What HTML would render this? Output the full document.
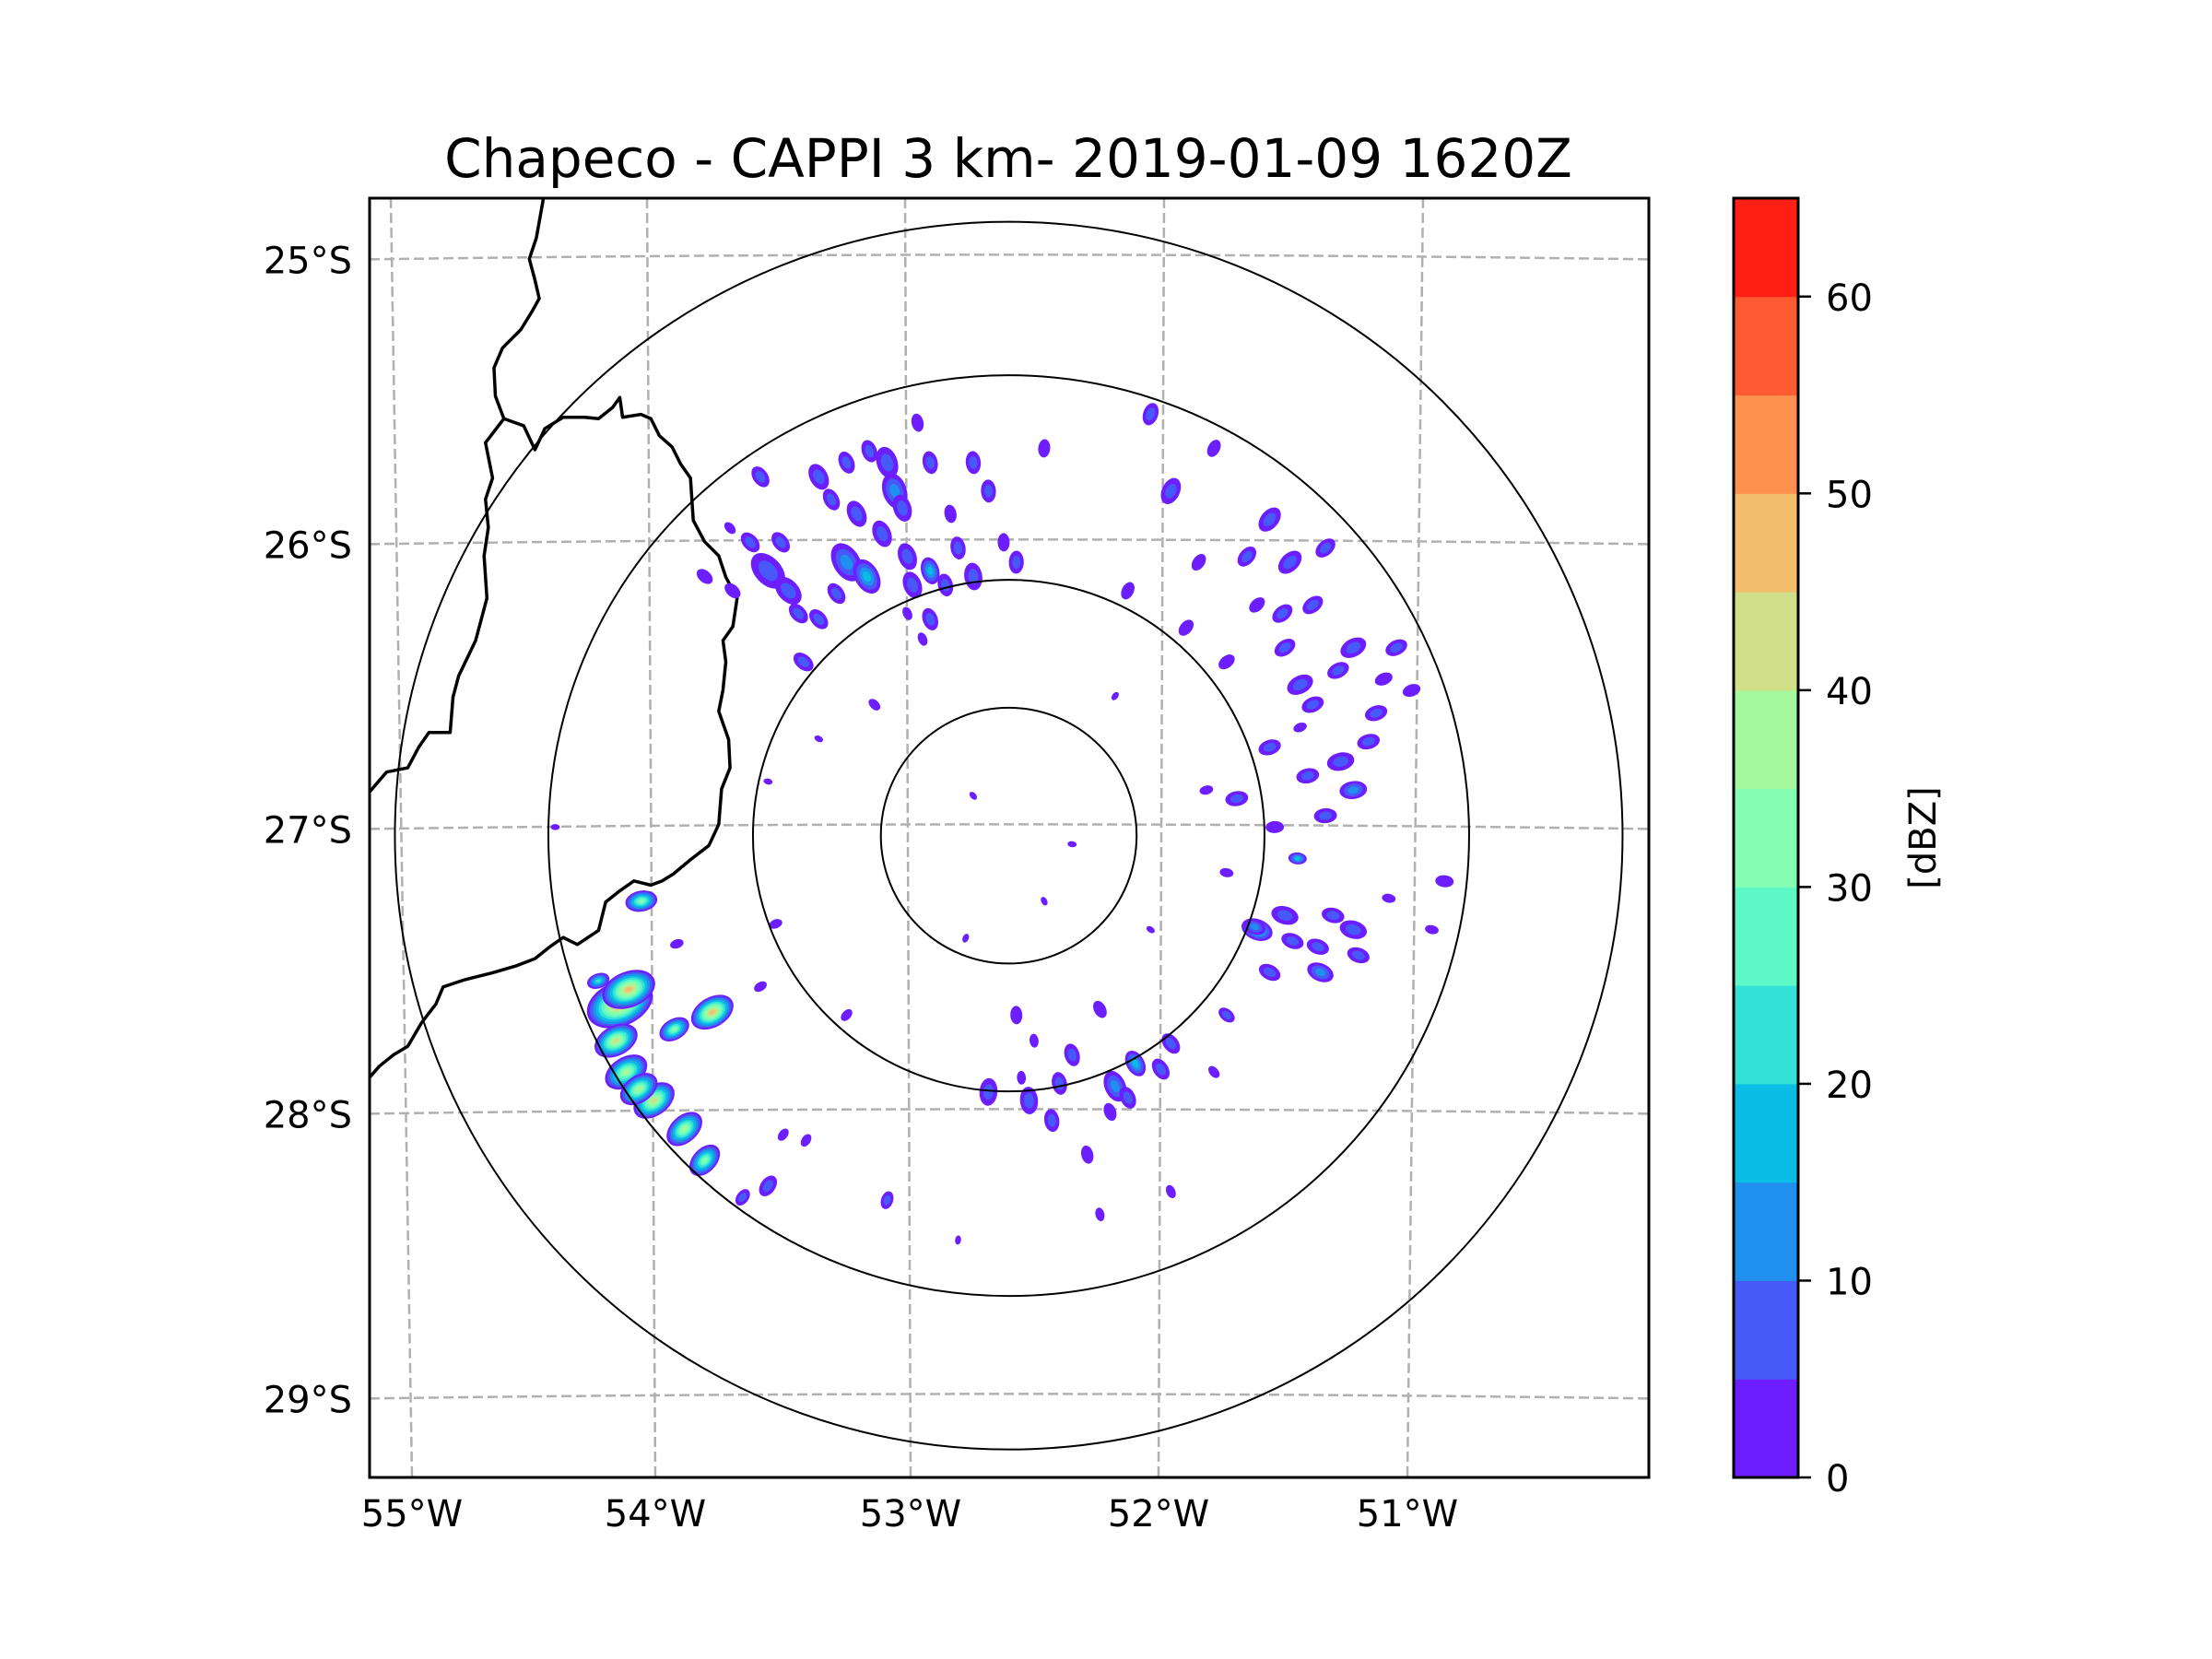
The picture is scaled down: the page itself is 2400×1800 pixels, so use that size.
<!DOCTYPE html>
<html><head><meta charset="utf-8"><title>Chapeco CAPPI</title>
<style>
html,body{margin:0;padding:0;background:#fff;}
svg{display:block;font-family:"DejaVu Sans","Liberation Sans",sans-serif;}
</style></head>
<body>
<svg id="fig" width="2400" height="1800" viewBox="0 0 2400 1800" xmlns="http://www.w3.org/2000/svg">
<rect width="2400" height="1800" fill="#fff"/>
<text x="1094" y="192" font-size="58" text-anchor="middle">Chapeco - CAPPI 3 km- 2019-01-09 1620Z</text>
<defs><clipPath id="axclip"><rect x="401" y="215" width="1388" height="1388"/></clipPath></defs>
<g id="grid" clip-path="url(#axclip)"></g>
<g id="borders" clip-path="url(#axclip)"></g>
<g id="echoes" clip-path="url(#axclip)"></g>
<g id="rings" clip-path="url(#axclip)"></g>
<rect x="401" y="215" width="1388" height="1388" fill="none" stroke="#000" stroke-width="3"/>
<g id="ticks"></g>
<g id="cbar"></g>
</svg>
<script>
// ---- data ----
const lonTicks = [-55, -54, -53, -52, -51];
const lonTickLabels = ["55°W", "54°W", "53°W", "52°W", "51°W"];
const latTicks = [-25, -26, -27, -28, -29];
const latTickLabels = ["25°S", "26°S", "27°S", "28°S", "29°S"];
const cbarLevels = [0,5,10,15,20,25,30,35,40,45,50,55,60,65];
const cbarColors = ["#6c1eff","#4759f8","#2090ee","#0abde6","#33e1d6","#5ef8c6","#84feb0","#a3f99b","#d1e088","#f4be6d","#ff914e","#ff5a32","#ff1f14"];
const cbarTicks = [0,10,20,30,40,50,60];
const radarLon = -52.60;
const radarLat = -27.03;
const ringRadiiKm = [50, 100, 180, 240];
// echoes: lon, lat, peak dBZ, size (km)
const echoLon = [-54.135,-54.10,-53.77,-53.92,-54.05,-54.11,-54.00,-53.88,-53.80,-54.22,-54.15,-54.06,
 -53.55,-53.47,-53.35,-53.24,-53.16,-53.08,-53.05,-53.10,-52.91,-52.91,-52.74,-52.68,-52.57,-52.74,-53.58,-53.69,-53.41,-52.96,-53.24,-52.46,-53.35,-52.91,-53.80,
 -52.04,-51.96,-51.79,-51.57,-51.49,-51.35,-51.40,-51.24,-51.07,-51.51,-51.62,-51.40,-51.29,-51.57,-51.35,-51.24,-51.01,-51.85,-52.13,-51.74,-51.46,
 -51.62,-51.51,-51.37,-51.32,-51.24,-51.57,-50.93,-50.88,-51.74,-51.79,
 -52.68,-52.52,-52.43,-52.18,-52.10,-52.24,-52.57,-51.96,-52.29,-51.96,-52.24,
 -53.55,-53.08,-53.49,-53.58,-53.52,-53.91,-52.80,-53.24,
 -52.74,-52.35,-52.46,-52.18,-52.94,-53.35,-52.04,-52.77,-51.74,-51.82,-53.13,-53.55,-54.39,
 -53.00,-53.20,-51.63,-51.45,-52.13,-53.62,-53.43,-52.85,-51.15,-51.70,-52.35,-53.30,
 -53.15,-53.02,-52.83,-52.62,-53.50,-53.28,-52.98,-52.80,-51.90,-51.66,-51.52,-51.30,-51.18,-51.42,-51.12,-51.55,-51.38,-51.48,-51.22,-51.10,
 -52.40,-52.20,-52.00,-52.55,-53.65,-53.40,-53.70,-53.00,-52.50,-51.45];
const echoLat = [-27.62,-27.57,-27.65,-27.71,-27.26,-27.86,-27.96,-28.06,-28.17,-27.54,-27.75,-27.92,
 -26.10,-26.17,-25.77,-26.07,-26.12,-25.72,-25.82,-25.97,-25.72,-26.10,-25.72,-25.82,-26.07,-26.12,-25.77,-26.17,-26.42,-25.58,-25.72,-25.67,-26.27,-26.27,-26.12,
 -25.55,-25.82,-25.67,-25.92,-26.07,-26.02,-26.22,-26.37,-26.37,-26.37,-26.22,-26.57,-26.77,-26.72,-26.96,-26.87,-26.52,-26.07,-26.17,-26.42,-27.11,
 -27.36,-27.31,-27.51,-27.31,-27.36,-27.51,-27.36,-27.19,-27.66,-27.86,
 -27.93,-27.96,-28.03,-27.91,-27.83,-27.64,-27.66,-27.76,-28.15,-28.28,-28.36,
 -28.26,-28.31,-28.08,-27.56,-27.34,-27.41,-28.45,-27.66,
 -26.89,-27.06,-27.26,-26.54,-26.34,-26.69,-27.36,-27.39,-27.16,-26.87,-26.57,-26.84,-27.00,
 -26.05,-25.90,-27.35,-26.50,-27.95,-26.00,-26.25,-26.15,-26.60,-26.90,-27.80,-25.85,
 -25.68,-25.88,-25.90,-26.00,-26.00,-26.18,-26.15,-26.02,-26.30,-26.05,-26.25,-26.45,-26.70,-26.82,-26.48,-27.00,-27.42,-27.40,-27.45,-27.25,
 -27.90,-28.00,-27.85,-27.88,-28.30,-28.10,-25.95,-26.25,-27.75,-26.65];
const echoDbz = [52,45,45,30,32,38,42,36,32,22,40,35,
 8,6,6,10,15,8,10,6,6,18,6,6,6,6,6,4,6,4,6,4,6,6,4,
 6,8,4,8,8,6,6,8,6,6,4,6,8,6,6,10,4,4,4,4,18,
 20,8,10,6,8,6,4,4,6,4,
 8,8,6,10,18,4,4,6,4,4,4,
 6,6,4,4,4,4,2,4,
 2,2,2,4,4,2,4,2,4,4,4,2,2,
 6,8,10,6,6,6,6,6,6,6,6,6,
 6,8,4,4,6,6,8,6,4,6,6,6,6,6,4,4,6,6,6,4,
 6,4,6,4,6,4,4,4,4,4];
const echoSize = [15,12,10,7,7,10,10,9,8,5,10,9,
 9,7,6,9,8,7,8,6,5,6,5,5,5,6,5,4,5,4,5,4,5,5,4,
 5,6,4,6,6,5,5,6,5,5,4,5,6,5,5,6,4,4,4,4,4,
 7,6,6,5,6,5,3,4,4,3,
 6,6,5,7,6,4,4,5,4,3,3,
 5,4,3,3,3,3,2,3,
 2,2,2,2,3,2,2,2,3,3,3,2,2,
 6,6,5,6,5,5,5,5,5,5,5,5,
 5,6,4,4,5,5,6,5,4,5,5,5,5,5,4,4,5,5,5,3,
 5,4,5,3,4,3,3,3,3,3];

// ---- axis functions ----
function xOf(lon){ return 434.7 + (lon + 55) * 274.9; }
function yOf(lat){ return 279.4 + (-25 - lat) * 309.0; }
const kmPx = 666 / 240;
const NS = "http://www.w3.org/2000/svg";
function mk(tag, attrs, parent){ const e = document.createElementNS(NS, tag); for (const k in attrs) e.setAttribute(k, attrs[k]); parent.appendChild(e); return e; }

// gridlines
const grid = document.getElementById('grid');
const merTop = {"-55":424,"-54":702,"-53":982,"-52":1263,"-51":1544};
const merBot = {"-55":447,"-54":711,"-53":988,"-52":1257,"-51":1527};
lonTicks.forEach(lon => {
  const l = mk('line', {x1: merTop[lon] , y1: 215, x2: merBot[lon], y2: 1603, stroke: '#b0b0b0', 'stroke-width': 2.5, 'stroke-dasharray': '11 5'}, grid);
  
  
});
latTicks.forEach(lat => {
  const y = yOf(lat) + 2;
  const p = mk('path', {d: `M401 ${y} Q1094 ${y-10} 1789 ${y}`, fill: 'none', stroke: '#b0b0b0', 'stroke-width': 2.5, 'stroke-dasharray': '11 5'}, grid);
  
  
});

// borders
function dpt(arr){ return arr.map(p => [401 + (p[0]-263)*1.5337, 215 + (p[1]-142)*1.5337]); }
const borderA = dpt([[386,142],[381,170],[376,185],[380,200],[383,213],[378,222],[370,235],[357,248],[351,262],[352,282],[358,298],[345,315],[350,340],[345,355],[347,375],[344,395],[346,425],[338,455],[326,480],[322,495],[320,520],[305,520],[298,530],[290,545],[275,548],[263,562]]);
const borderB = dpt([[358,298],[372,303],[380,320],[387,305],[400,297],[415,297],[425,298],[435,290],[440,283],[442,297],[455,295],[462,298],[468,310],[477,318],[483,330],[490,340],[492,370],[500,385],[510,395],[515,410],[523,425],[520,445],[513,455],[515,470],[513,490],[510,505],[517,525],[518,545],[512,560],[510,585],[503,600],[490,610],[478,620],[470,625],[462,628],[450,625],[440,632],[430,640],[425,660],[410,670],[400,665],[390,672],[380,680],[367,685],[350,690],[330,695],[315,700],[310,712],[300,725],[290,742],[280,748],[270,756],[263,764]]);
const bg = document.getElementById('borders');
[borderA, borderB].forEach((pts, i) => {
  const pl = mk('polyline', {points: pts.map(p => p.join(',')).join(' '), fill: 'none', stroke: '#000', 'stroke-width': 3.5, 'stroke-linejoin': 'round'}, bg);
  
  
});

// echoes
const eg = document.getElementById('echoes');
const cx0 = xOf(radarLon), cy0 = yOf(radarLat);
echoLon.forEach((lon, i) => {
  const x = xOf(lon), y = yOf(echoLat[i]);
  const ang = Math.atan2(y - cy0, x - cx0) * 180 / Math.PI;
  const nLev = Math.floor(echoDbz[i] / 5) + 1;
  const s = echoSize[i] * kmPx * 0.9;
  for (let l = 0; l < nLev; l++) {
    const f = 1 - l / (nLev + 0.3);
    const e = mk('ellipse', {cx: x, cy: y, rx: s * f, ry: s * 0.65 * f, fill: cbarColors[Math.min(l, cbarColors.length-1)], transform: `rotate(${ang} ${x} ${y})`}, eg);
    
    
  }
});

// rings
const rg = document.getElementById('rings');
ringRadiiKm.forEach(r => {
  const c = mk('circle', {cx: cx0, cy: cy0, r: r * kmPx, fill: 'none', stroke: '#000', 'stroke-width': 2}, rg);
  
  
});

// tick labels
const tg = document.getElementById('ticks');
lonTicks.forEach((lon, i) => {
  const t = mk('text', {x: merBot[lon], y: 1656, 'font-size': 40, 'text-anchor': 'middle'}, tg);
  t.textContent = lonTickLabels[i];
  
  
});
latTicks.forEach((lat, i) => {
  const t = mk('text', {x: 382, y: yOf(lat) + 17, 'font-size': 40, 'text-anchor': 'end'}, tg);
  t.textContent = latTickLabels[i];
  
  
});

// colorbar
const cg = document.getElementById('cbar');
const cbTop = 215, cbBot = 1603, cbX = 1881, cbW = 70;
function cbY(v){ return cbBot - (v - 0) / 65 * (cbBot - cbTop); }
cbarColors.forEach((col, i) => {
  const r = mk('rect', {x: cbX, y: cbY(cbarLevels[i+1]), width: cbW, height: cbY(cbarLevels[i]) - cbY(cbarLevels[i+1]) + 0.5, fill: col}, cg);
  
  
});
const fr = mk('rect', {x: cbX, y: cbTop, width: cbW, height: cbBot - cbTop, fill: 'none', stroke: '#000', 'stroke-width': 3}, cg);


cbarTicks.forEach(v => {
  const y = cbY(v);
  const tk = mk('line', {x1: cbX + cbW, x2: cbX + cbW + 14, y1: y, y2: y, stroke: '#000', 'stroke-width': 2.5}, cg);
  
  
  const t = mk('text', {x: cbX + cbW + 30, y: y + 15, 'font-size': 40}, cg);
  t.textContent = String(v);
  
  
});
const lab = mk('text', {x: 2100, y: 909, 'font-size': 40, 'text-anchor': 'middle', transform: 'rotate(-90 2100 909)'}, cg);
lab.textContent = '[dBZ]';


</script>
</body></html>
